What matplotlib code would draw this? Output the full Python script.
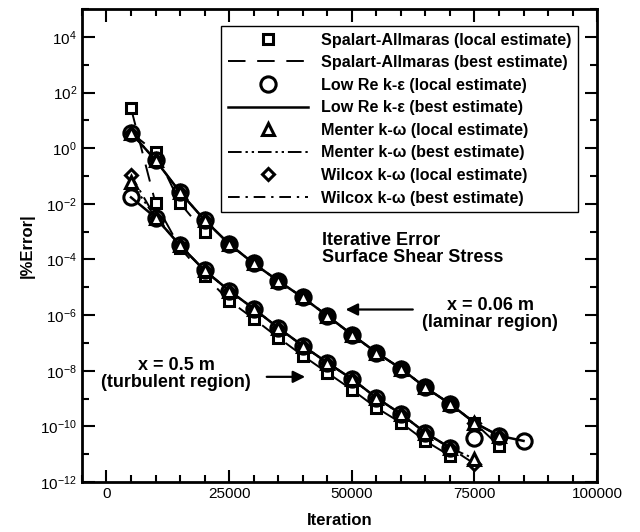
import numpy as np
import matplotlib
matplotlib.use("Agg")
import matplotlib.pyplot as plt
from matplotlib.patches import FancyArrowPatch
from matplotlib.ticker import MultipleLocator, FixedLocator, NullFormatter

plt.rcParams['font.family'] = ['Liberation Sans', 'DejaVu Sans']
plt.rcParams['mathtext.fontset'] = 'custom'
plt.rcParams['mathtext.rm'] = 'Liberation Sans'
plt.rcParams['mathtext.it'] = 'Liberation Sans:italic'
plt.rcParams['mathtext.bf'] = 'Liberation Sans:bold'

# laminar region, x = 0.06 m
it_lam = [5000, 10000, 15000, 20000, 25000, 30000, 35000, 40000, 45000,
          50000, 55000, 60000, 65000, 70000, 75000, 80000, 85000]
ke_lam = [3.6, 3.7e-1, 2.6e-2, 2.6e-3, 3.6e-4, 7.2e-5, 1.7e-5, 4.3e-6, 9.5e-7,
          2.0e-7, 4.5e-8, 1.2e-8, 2.5e-9, 6.5e-10, 3.9e-11, 4.6e-11, 3.0e-11]
ke_lam_best = [3.6, 3.7e-1, 2.6e-2, 2.6e-3, 3.6e-4, 7.2e-5, 1.7e-5, 4.3e-6, 9.5e-7,
               2.0e-7, 4.5e-8, 1.2e-8, 2.5e-9, 6.5e-10, 1.35e-10, 4.6e-11, 3.0e-11]
it_lam_kw = [5000, 10000, 15000, 20000, 25000, 30000, 35000, 40000, 45000,
             50000, 55000, 60000, 65000, 70000, 75000, 80000]
kw_lam = [3.6, 3.7e-1, 2.6e-2, 2.6e-3, 3.6e-4, 7.2e-5, 1.7e-5, 4.3e-6, 9.5e-7,
          2.0e-7, 4.5e-8, 1.2e-8, 2.5e-9, 6.5e-10, 1.35e-10, 4.6e-11]
sa_lam = [3.6, 7.2e-1, 1.05e-2, 9.3e-4, 3.6e-4, 7.2e-5, 1.7e-5, 4.3e-6, 9.5e-7,
          2.0e-7, 4.5e-8, 1.2e-8, 2.5e-9, 6.5e-10, 1.35e-10, 2.0e-11]

# turbulent region, x = 0.5 m
it_turb = [5000, 10000, 15000, 20000, 25000, 30000, 35000, 40000, 45000,
           50000, 55000, 60000, 65000, 70000]
ke_turb = [1.7e-2, 3.2e-3, 3.2e-4, 4.0e-5, 7.6e-6, 1.7e-6, 3.5e-7, 7.9e-8, 1.95e-8,
           5.1e-9, 1.07e-9, 2.8e-10, 5.9e-11, 1.7e-11]
sa_turb = [27.5, 1.05e-2, 2.6e-4, 2.6e-5, 3.3e-6, 7.4e-7, 1.55e-7, 3.5e-8, 8.5e-9,
           2.1e-9, 4.7e-10, 1.35e-10, 3.0e-11, 8.7e-12]
it_turb_kw = [5000, 10000, 15000, 20000, 25000, 30000, 35000, 40000, 45000,
              50000, 55000, 60000, 65000, 70000, 75000]
menter_turb = [6.0e-2, 3.2e-3, 3.2e-4, 4.0e-5, 7.6e-6, 1.7e-6, 3.5e-7, 7.9e-8, 1.95e-8,
               5.1e-9, 1.07e-9, 2.8e-10, 5.9e-11, 1.7e-11, 6.8e-12]
wilcox_turb = [1.07e-1, 3.2e-3, 3.2e-4, 4.0e-5, 7.6e-6, 1.7e-6, 3.5e-7, 7.9e-8, 1.95e-8,
               5.1e-9, 1.07e-9, 2.8e-10, 5.9e-11, 1.7e-11, 4.5e-12]

y_major = [1e-12, 1e-10, 1e-8, 1e-6, 1e-4, 1e-2, 1e0, 1e2, 1e4]
y_minor = [1e-11, 1e-9, 1e-7, 1e-5, 1e-3, 1e-1, 1e1, 1e3, 1e5]

fig = plt.figure(figsize=(6.4, 5.32), dpi=100)
ax = fig.add_axes([0.128, 0.094, 0.805, 0.889])

mk = dict(linestyle='none', markerfacecolor='white', markeredgecolor='black', markeredgewidth=2.2)
dash_sa = (0, (9, 6))
dash_menter = (0, (7, 2, 1.2, 2, 1.2, 2))
dash_wilcox = (0, (6, 3, 1.2, 3))

# best estimate lines
ax.plot(it_lam[:16], sa_lam, color='black', lw=1.4, ls=dash_sa, label='Spalart-Allmaras (best estimate)')
ax.plot(it_turb, sa_turb, color='black', lw=1.4, ls=dash_sa)
ax.plot(it_lam, ke_lam_best, color='black', lw=1.8, ls='-', label='Low Re k-\u03b5 (best estimate)')
ax.plot(it_turb, ke_turb, color='black', lw=1.8, ls='-')
ax.plot(it_lam_kw, kw_lam, color='black', lw=1.4, ls=dash_menter, label='Menter k-\u03c9 (best estimate)')
ax.plot(it_turb_kw, menter_turb, color='black', lw=1.4, ls=dash_menter)
ax.plot(it_lam_kw, kw_lam, color='black', lw=1.4, ls=dash_wilcox, label='Wilcox k-\u03c9 (best estimate)')
ax.plot(it_turb_kw, wilcox_turb, color='black', lw=1.4, ls=dash_wilcox)

# local estimates
ax.plot(it_lam[1:16], sa_lam[1:], marker='s', ms=7.5, **mk, label='Spalart-Allmaras (local estimate)')
ax.plot(it_turb, sa_turb, marker='s', ms=7.5, **mk)
ax.plot(it_lam_kw, kw_lam, marker='D', ms=6.5, **mk, label='Wilcox k-\u03c9 (local estimate)')
ax.plot(it_turb_kw, wilcox_turb, marker='D', ms=6.5, **mk)
ax.plot(it_lam_kw, kw_lam, marker='^', ms=9, **mk, label='Menter k-\u03c9 (local estimate)')
ax.plot(it_turb_kw, menter_turb, marker='^', ms=9, **mk)
ax.plot(it_lam, ke_lam, marker='o', ms=11, linestyle='none', markerfacecolor='none',
        markeredgecolor='black', markeredgewidth=2.2, label='Low Re k-\u03b5 (local estimate)')
ax.plot(it_turb, ke_turb, marker='o', ms=11, linestyle='none', markerfacecolor='none',
        markeredgecolor='black', markeredgewidth=2.2)

ax.set_yscale('log')
ax.set_xlim(-5000, 100000)
ax.set_ylim(1e-12, 1e5)
ax.xaxis.set_major_locator(MultipleLocator(25000))
ax.xaxis.set_minor_locator(MultipleLocator(5000))
ax.yaxis.set_major_locator(FixedLocator(y_major))
ax.yaxis.set_minor_locator(FixedLocator(y_minor))
ax.yaxis.set_minor_formatter(NullFormatter())
ax.tick_params(which='both', direction='in', top=True, right=True, width=1.5, labelsize=11)
ax.tick_params(which='major', length=9)
ax.tick_params(which='minor', length=5)
for s in ax.spines.values():
    s.set_linewidth(2)

ax.set_xlabel('Iteration', fontsize=12, fontweight='bold', labelpad=9)
ax.set_ylabel('|%Error|', fontsize=12, fontweight='bold', labelpad=4)

handles, labels = ax.get_legend_handles_labels()
order = ['Spalart-Allmaras (local estimate)', 'Spalart-Allmaras (best estimate)',
         'Low Re k-\u03b5 (local estimate)', 'Low Re k-\u03b5 (best estimate)',
         'Menter k-\u03c9 (local estimate)', 'Menter k-\u03c9 (best estimate)',
         'Wilcox k-\u03c9 (local estimate)', 'Wilcox k-\u03c9 (best estimate)']
hmap = dict(zip(labels, handles))
leg = ax.legend([hmap[l] for l in order], order, loc='upper right', bbox_to_anchor=(0.963, 0.964),
                prop={'weight': 'bold', 'size': 11.6}, handlelength=5.0, handletextpad=0.8,
                labelspacing=0.47, borderpad=0.4, borderaxespad=0, fancybox=False, framealpha=1,
                edgecolor='black')
leg.get_frame().set_linewidth(1.0)

ax.text(43900, 10**-3.0, 'Iterative Error\nSurface Shear Stress', fontsize=13, fontweight='bold',
        ha='left', va='top', linespacing=1.0)
ax.text(78250, 10**-5.95, 'x = 0.06 m\n(laminar region)', fontsize=13, fontweight='bold',
        ha='center', va='center', linespacing=1.0)
ax.text(14230, 10**-8.11, 'x = 0.5 m\n(turbulent region)', fontsize=13, fontweight='bold',
        ha='center', va='center', linespacing=1.0)
ax.add_patch(FancyArrowPatch((63000, 10**-5.8), (48170, 10**-5.8), arrowstyle='-|>',
                             color='black', lw=1.6, mutation_scale=18))
ax.add_patch(FancyArrowPatch((32100, 10**-8.22), (41060, 10**-8.22), arrowstyle='-|>',
                             color='black', lw=1.6, mutation_scale=18))

fig.savefig('out.png', dpi=100)
